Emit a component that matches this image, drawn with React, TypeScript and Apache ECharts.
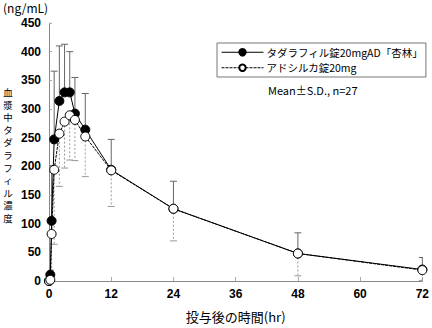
import React, { useEffect, useRef } from "react";
import * as echarts from "echarts";

const times = [0, 0.25, 0.5, 1, 2, 3, 4, 5, 7, 12, 24, 48, 72];
const tadalafilMean = [0, 11, 105, 247, 314, 329, 329, 292, 264, 194, 126, 48, 20];
const tadalafilSD = [0, 8, 96, 119, 96, 84, 71, 63, 63, 53, 48, 36, 21];
const adcircaMean = [0, 2, 82, 194, 257, 278, 289, 281, 252, 193, 126, 48, 19];
const adcircaSD = [0, 2, 82, 130, 92, 81, 78, 71, 70, 63, 56, 39, 18];

const seriesNames = ["タダラフィル錠20mgAD「杏林」", "アドシルカ錠20mg"];
const yUnit = "(ng/mL)";
const yTitle = "血漿中タダラフィル濃度";
const xTitle = "投与後の時間(hr)";
const note = "Mean±S.D., n=27";

const JP = '"Noto Sans CJK JP", "Noto Sans", sans-serif';
const NUM = '"Liberation Sans", Arial, sans-serif';

function errorBarSeries(
  name: string,
  means: number[],
  sds: number[],
  dir: 1 | -1,
  color: string,
  dashed: boolean
) {
  const data = times.map((t, i) => [t, means[i], sds[i]]);
  return {
    type: "custom",
    name: name + "_err",
    z: 1,
    silent: true,
    clip: true,
    data,
    encode: { x: 0, y: 1 },
    renderItem: (params: any, api: any) => {
      const t = api.value(0);
      const m = api.value(1);
      const s = api.value(2);
      if (!s) return null;
      const end = Math.max(0, m + dir * s);
      const p0 = api.coord([t, m]);
      const p1 = api.coord([t, end]);
      const half = 3.5;
      const style = {
        stroke: color,
        lineWidth: 1,
        lineDash: dashed ? [2, 2] : null,
      };
      return {
        type: "group",
        children: [
          {
            type: "line",
            shape: { x1: p0[0], y1: p0[1], x2: p1[0], y2: p1[1] },
            style,
          },
          {
            type: "line",
            shape: { x1: p1[0] - half, y1: p1[1], x2: p1[0] + half, y2: p1[1] },
            style: { stroke: color, lineWidth: 1 },
          },
        ],
      };
    },
  };
}

export default function App() {
  const ref = useRef<HTMLDivElement>(null);
  useEffect(() => {
    if (!ref.current) return;
    const chart = echarts.init(ref.current, null, { renderer: "svg" });
    const step = 12.6;
    const n = yTitle.length;
    const centerY = 155;
    const titleChars = yTitle.split("").map((ch, i) => ({
      type: "text",
      x: 8,
      y: centerY + (i - (n - 1) / 2) * step,
      style: {
        text: ch,
        fontFamily: JP,
        fontSize: 9.5,
        fill: "#000000",
        align: "center",
        verticalAlign: "middle",
      },
    }));
    const option: any = {
      animation: false,
      backgroundColor: "#ffffff",
      grid: { left: 49, right: 7, top: 23, bottom: 36, containLabel: false },
      legend: {
        data: seriesNames,
        orient: "vertical",
        left: 217,
        top: 43,
        padding: [4, 3, 4, 4],
        itemGap: 5,
        itemWidth: 42,
        itemHeight: 8,
        borderColor: "#777",
        borderWidth: 1,
        lineStyle: { width: 1 },
        textStyle: { fontFamily: JP, fontSize: 10.5, color: "#000", padding: [0, 0, 0, -2] },
      },
      xAxis: {
        type: "value",
        min: 0,
        max: 72,
        interval: 12,
        name: xTitle,
        nameLocation: "middle",
        nameGap: 29,
        nameTextStyle: { fontFamily: JP, fontSize: 13, color: "#000" },
        axisLine: { show: true, lineStyle: { color: "#888", width: 1 } },
        axisTick: { show: true, inside: true, length: 4, lineStyle: { color: "#aaa" } },
        axisLabel: { fontFamily: NUM, fontSize: 12, fontWeight: "bold", color: "#000", margin: 7 },
        splitLine: { show: false },
      },
      yAxis: {
        type: "value",
        min: 0,
        max: 450,
        interval: 50,
        axisLine: { show: true, lineStyle: { color: "#888", width: 1 } },
        axisTick: { show: true, inside: true, length: 3, lineStyle: { color: "#aaa" } },
        axisLabel: { fontFamily: NUM, fontSize: 12, fontWeight: "bold", color: "#000", margin: 8 },
        splitLine: { show: false },
      },
      graphic: [
        {
          type: "text",
          left: 3,
          top: 1,
          style: { text: yUnit, fontFamily: JP, fontSize: 12, fill: "#000" },
        },
        ...titleChars,
        {
          type: "text",
          left: 268,
          top: 84,
          style: { text: note, fontFamily: JP, fontSize: 11, fill: "#000" },
        },
      ],
      series: [
        errorBarSeries(seriesNames[0], tadalafilMean, tadalafilSD, 1, "#666", false),
        errorBarSeries(seriesNames[1], adcircaMean, adcircaSD, -1, "#999", true),
        {
          type: "line",
          name: seriesNames[0],
          z: 3,
          data: times.map((t, i) => [t, tadalafilMean[i]]),
          symbol: "circle",
          symbolSize: 9,
          showAllSymbol: true,
          lineStyle: { color: "#000", width: 1 },
          itemStyle: { color: "#000", borderColor: "#000", borderWidth: 1 },
        },
        {
          type: "line",
          name: seriesNames[1],
          z: 4,
          data: times.map((t, i) => [t, adcircaMean[i]]),
          symbol: "circle",
          symbolSize: 9,
          showAllSymbol: true,
          lineStyle: { color: "#000", width: 1, type: [3, 1] },
          itemStyle: { color: "#fff", borderColor: "#000", borderWidth: 1 },
        },
      ],
    };
    chart.setOption(option);
    return () => chart.dispose();
  }, []);
  return (
    <div
      ref={ref}
      style={{ position: "fixed", left: 0, top: 0, width: 432, height: 328, background: "#fff" }}
    />
  );
}
